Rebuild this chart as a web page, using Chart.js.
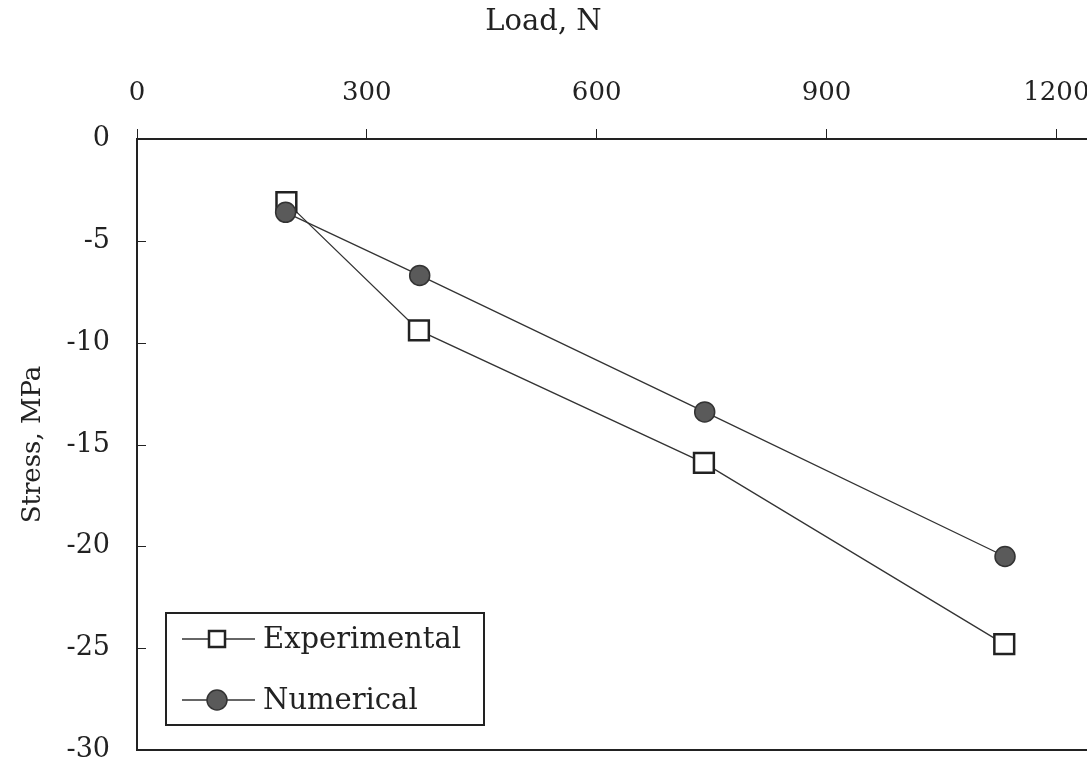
<!DOCTYPE html>
<html>
<head>
<meta charset="utf-8">
<script src="https://cdn.jsdelivr.net/npm/chart.js@4.4.1/dist/chart.umd.min.js"></script>
<style>
  html, body { margin: 0; padding: 0; background: #fff; overflow: hidden; }
  canvas { display: block; }
</style>
</head>
<body>
<canvas id="stressChart" width="1087" height="771"></canvas>
<script>
// data
const loadExp = [195, 368, 740, 1132];
const stressExp = [-3.1, -9.4, -15.9, -24.8];
const loadNum = [194, 369, 741, 1133];
const stressNum = [-3.6, -6.7, -13.4, -20.5];
const xTicks = [0, 300, 600, 900, 1200];
const yTicks = [0, -5, -10, -15, -20, -25, -30];

const FONT = "'DejaVu Serif', 'Liberation Serif', serif";
const INK = "#222";
const X_MAX = 1240;

const toPoints = (xs, ys) => xs.map((x, i) => ({ x: x, y: ys[i] }));

// small inward ticks on the left axis
const innerTicks = {
  id: "innerTicks",
  afterDraw(chart) {
    const ctx = chart.ctx;
    const y = chart.scales.y;
    const left = chart.chartArea.left;
    ctx.save();
    ctx.strokeStyle = INK;
    ctx.lineWidth = 1;
    yTicks.forEach((v) => {
      if (v === 0 || v === -30) return;
      const py = Math.round(y.getPixelForValue(v)) + 0.5;
      ctx.beginPath();
      ctx.moveTo(left, py);
      ctx.lineTo(left + 9, py);
      ctx.stroke();
    });
    ctx.restore();
  },
};

// boxed legend inside the plot, lower left
const boxLegend = {
  id: "boxLegend",
  afterDraw(chart) {
    const ctx = chart.ctx;
    const x0 = 166, y0 = 613, w = 318, h = 112;
    ctx.save();
    ctx.fillStyle = "#fff";
    ctx.fillRect(x0, y0, w, h);
    ctx.strokeStyle = INK;
    ctx.lineWidth = 2;
    ctx.strokeRect(x0, y0, w, h);
    ctx.font = "29px " + FONT;
    ctx.textBaseline = "middle";
    chart.data.datasets.forEach((ds, i) => {
      const cy = 639 + i * 61;
      ctx.strokeStyle = ds.borderColor;
      ctx.lineWidth = 1.3;
      ctx.beginPath();
      ctx.moveTo(182, cy);
      ctx.lineTo(255, cy);
      ctx.stroke();
      ctx.fillStyle = ds.pointBackgroundColor;
      ctx.strokeStyle = ds.pointBorderColor;
      ctx.lineWidth = ds.pointBorderWidth;
      ctx.beginPath();
      if (ds.pointStyle === "rect") {
        ctx.rect(217 - 8, cy - 8, 16, 16);
      } else {
        ctx.arc(217, cy, 10, 0, Math.PI * 2);
      }
      ctx.fill();
      ctx.stroke();
      ctx.fillStyle = INK;
      ctx.fillText(ds.label, 263, cy + 1);
    });
    ctx.restore();
  },
};

const ctx = document.getElementById("stressChart").getContext("2d");
new Chart(ctx, {
  type: "line",
  data: {
    datasets: [
      {
        label: "Experimental",
        data: toPoints(loadExp, stressExp),
        borderColor: "#333",
        borderWidth: 1.3,
        pointStyle: "rect",
        pointRadius: 14,
        pointBackgroundColor: "#fff",
        pointBorderColor: "#222",
        pointBorderWidth: 2.5,
        order: 1,
      },
      {
        label: "Numerical",
        data: toPoints(loadNum, stressNum),
        borderColor: "#333",
        borderWidth: 1.3,
        pointStyle: "circle",
        pointRadius: 10,
        pointBackgroundColor: "#5a5a5a",
        pointBorderColor: "#333",
        pointBorderWidth: 1.5,
        order: 0,
      },
    ],
  },
  options: {
    responsive: false,
    animation: false,
    layout: { autoPadding: false, padding: { top: 0, right: 0, bottom: 21, left: 0 } },
    plugins: {
      legend: { display: false },
      tooltip: { enabled: false },
      title: {
        display: true,
        text: "Load, N",
        color: INK,
        font: { family: FONT, size: 29, weight: "normal" },
        padding: { top: 5, bottom: 18 },
      },
    },
    scales: {
      x: {
        type: "linear",
        position: "top",
        min: 0,
        max: X_MAX,
        afterBuildTicks: (s) => { s.ticks = xTicks.map((v) => ({ value: v })); },
        afterFit: (s) => { s.paddingLeft = 0; s.paddingRight = 0; },
        ticks: {
          color: INK,
          padding: 20,
          font: { family: FONT, size: 26 },
          callback: (v) => String(v),
        },
        grid: {
          drawOnChartArea: false,
          drawTicks: true,
          tickLength: 10,
          tickColor: INK,
          tickWidth: 1,
        },
        border: { display: true, color: INK, width: 2 },
      },
      x2: {
        type: "linear",
        position: "bottom",
        min: 0,
        max: X_MAX,
        ticks: { display: false },
        grid: { display: false, drawTicks: false },
        border: { display: true, color: INK, width: 2 },
        afterFit: (s) => { s.height = 0; s.paddingLeft = 0; s.paddingRight = 0; },
      },
      y: {
        type: "linear",
        position: "left",
        min: -30,
        max: 0,
        afterBuildTicks: (s) => { s.ticks = yTicks.map((v) => ({ value: v })); },
        ticks: {
          color: INK,
          padding: 27,
          font: { family: FONT, size: 27 },
        },
        grid: { drawOnChartArea: false, drawTicks: false },
        border: { display: true, color: INK, width: 2 },
        title: {
          display: true,
          text: "Stress, MPa",
          color: INK,
          font: { family: FONT, size: 26 },
          padding: { top: 18, bottom: 0 },
        },
        afterFit: (s) => { s.width = 137; s.paddingTop = 0; s.paddingBottom = 0; },
      },
    },
  },
  plugins: [innerTicks, boxLegend],
});
</script>
</body>
</html>
